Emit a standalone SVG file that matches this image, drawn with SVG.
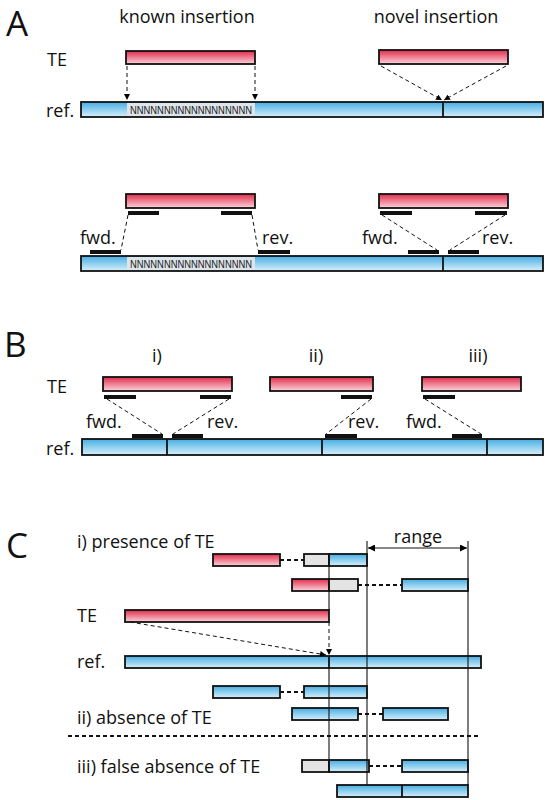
<svg xmlns="http://www.w3.org/2000/svg" width="547" height="800" viewBox="0 0 547 800">
<defs>
<linearGradient id="gr" x1="0" y1="0" x2="0" y2="1"><stop offset="0" stop-color="#e22c4a"/><stop offset="1" stop-color="#fbd3db"/></linearGradient>
<linearGradient id="gb" x1="0" y1="0" x2="0" y2="1"><stop offset="0" stop-color="#45ade3"/><stop offset="1" stop-color="#d8f0fb"/></linearGradient>
<marker id="ah" viewBox="0 0 8 8" refX="8" refY="4" markerWidth="6" markerHeight="6" markerUnits="userSpaceOnUse" orient="auto"><path d="M0,0 L8,4 L0,8 z" fill="#000"/></marker>
<marker id="ahs" viewBox="0 0 8 8" refX="0" refY="4" markerWidth="7" markerHeight="7" markerUnits="userSpaceOnUse" orient="auto"><path d="M8,0 L0,4 L8,8 z" fill="#000"/></marker>
<marker id="ahe" viewBox="0 0 8 8" refX="8" refY="4" markerWidth="7" markerHeight="7" markerUnits="userSpaceOnUse" orient="auto"><path d="M0,0 L8,4 L0,8 z" fill="#000"/></marker>
</defs>
<style>
text{font-family:"Open Sans","Liberation Sans",sans-serif;fill:#111;}
.big{font-size:35px;}
.lab{font-size:18px;}
.te{fill:url(#gr);stroke:#111;stroke-width:1.8;}
.rf{fill:url(#gb);stroke:#111;stroke-width:1.8;}
.gy{fill:#e4e4e4;stroke:#111;stroke-width:1.8;}
.nr{fill:#dde5ea;}
.nt{font-family:"Liberation Sans",sans-serif;font-size:10px;fill:#222;}
.rd{fill:#111;}
.dv{stroke:#111;stroke-width:1.8;}
.ds{stroke:#111;stroke-width:1;fill:none;stroke-dasharray:4 3;}
.dsb{stroke:#111;stroke-width:2;fill:none;stroke-dasharray:4 3;}
.vl{stroke:#111;stroke-width:1.1;}
</style>

<!-- Panel A -->
<g id="panelA-labels">
<text class="big" x="6" y="36">A</text>
<text class="lab" x="187" y="23" text-anchor="middle">known insertion</text>
<text class="lab" x="436" y="23" text-anchor="middle">novel insertion</text>
<text class="lab" x="47" y="66">TE</text>
<text class="lab" x="46" y="117">ref.</text>
<text class="lab" x="80" y="244">fwd.</text>
<text class="lab" x="262" y="244">rev.</text>
<text class="lab" x="362" y="244">fwd.</text>
<text class="lab" x="482" y="244">rev.</text>
</g>
<g id="A-te-known"><rect class="te" x="126" y="51" width="129" height="13"/></g>
<g id="A-te-novel"><rect class="te" x="379" y="50" width="129" height="14"/></g>
<g id="A-ref1">
<rect class="rf" x="81" y="102" width="462" height="15"/>
<rect class="nr" x="127" y="103" width="128" height="13"/>
<text class="nt" x="130" y="113.5" textLength="122" lengthAdjust="spacingAndGlyphs">NNNNNNNNNNNNNNNNNN</text>
<line class="dv" x1="443" y1="102" x2="443" y2="117"/>
</g>
<g id="A-te-known2"><rect class="te" x="126" y="194" width="129" height="14"/></g>
<g id="A-te-novel2"><rect class="te" x="379" y="194" width="129" height="14"/></g>
<g id="A-reads">
<rect class="rd" x="128" y="211" width="31" height="4"/>
<rect class="rd" x="221" y="211" width="31" height="4"/>
<rect class="rd" x="380" y="211" width="32" height="4"/>
<rect class="rd" x="475" y="211" width="32" height="4"/>
<rect class="rd" x="90" y="250" width="31" height="4"/>
<rect class="rd" x="258" y="250" width="32" height="4"/>
<rect class="rd" x="408" y="250" width="31" height="4"/>
<rect class="rd" x="448" y="250" width="31" height="4"/>
</g>
<g id="A-ref2">
<rect class="rf" x="81" y="256" width="462" height="15"/>
<rect class="nr" x="127" y="257" width="128" height="13"/>
<text class="nt" x="130" y="267.5" textLength="122" lengthAdjust="spacingAndGlyphs">NNNNNNNNNNNNNNNNNN</text>
<line class="dv" x1="443" y1="256" x2="443" y2="271"/>
</g>

<!-- Panel B -->
<g id="panelB-labels">
<text class="big" x="4" y="357">B</text>
<text class="lab" x="157" y="362" text-anchor="middle">i)</text>
<text class="lab" x="316" y="362" text-anchor="middle">ii)</text>
<text class="lab" x="478" y="362" text-anchor="middle">iii)</text>
<text class="lab" x="47" y="393">TE</text>
<text class="lab" x="46" y="455">ref.</text>
<text class="lab" x="86" y="428">fwd.</text>
<text class="lab" x="207" y="428">rev.</text>
<text class="lab" x="348" y="428">rev.</text>
<text class="lab" x="406" y="428">fwd.</text>
</g>
<g id="B-te-i"><rect class="te" x="103" y="377" width="129" height="14"/></g>
<g id="B-te-ii"><rect class="te" x="270" y="377" width="103" height="14"/></g>
<g id="B-te-iii"><rect class="te" x="422" y="377" width="99" height="14"/></g>
<g id="B-reads">
<rect class="rd" x="104" y="395" width="32" height="4"/>
<rect class="rd" x="200" y="395" width="31" height="4"/>
<rect class="rd" x="341" y="395" width="31" height="4"/>
<rect class="rd" x="423" y="395" width="32" height="4"/>
<rect class="rd" x="132" y="434" width="31" height="4"/>
<rect class="rd" x="172" y="434" width="31" height="4"/>
<rect class="rd" x="325" y="434" width="32" height="4"/>
<rect class="rd" x="452" y="434" width="30" height="4"/>
</g>
<g id="B-ref">
<rect class="rf" x="82" y="439" width="461" height="16"/>
<line class="dv" x1="167" y1="439" x2="167" y2="455"/>
<line class="dv" x1="322" y1="439" x2="322" y2="455"/>
<line class="dv" x1="487" y1="439" x2="487" y2="455"/>
</g>

<!-- Panel C -->
<g id="panelC-labels">
<text class="big" x="6" y="558">C</text>
<text class="lab" x="77" y="548">i) presence of TE</text>
<text class="lab" x="418" y="543" text-anchor="middle">range</text>
<text class="lab" x="77" y="622">TE</text>
<text class="lab" x="77" y="668">ref.</text>
<text class="lab" x="77" y="724">ii) absence of TE</text>
<text class="lab" x="77" y="773">iii) false absence of TE</text>
</g>
<g id="C-i-row1">
<rect class="te" x="213" y="554" width="67" height="12"/>
<rect class="gy" x="304" y="554" width="25" height="12"/>
<rect class="rf" x="329" y="554" width="38" height="12"/>
</g>
<g id="C-i-row2">
<rect class="te" x="292" y="579" width="37" height="12"/>
<rect class="gy" x="329" y="579" width="29" height="12"/>
<rect class="rf" x="402" y="579" width="66" height="12"/>
</g>
<g id="C-te"><rect class="te" x="125" y="610" width="204" height="12"/></g>
<g id="C-ref">
<rect class="rf" x="125" y="656" width="356" height="12"/>
</g>
<g id="C-ii-row1">
<rect class="rf" x="213" y="686" width="67" height="12"/>
<rect class="rf" x="304" y="686" width="63" height="12"/>
</g>
<g id="C-ii-row2">
<rect class="rf" x="292" y="708" width="66" height="12"/>
<rect class="rf" x="383" y="708" width="65" height="12"/>
</g>
<g id="C-iii-row1">
<rect class="gy" x="302" y="760" width="27" height="12"/>
<rect class="rf" x="329" y="760" width="40" height="12"/>
<rect class="rf" x="402" y="760" width="66" height="12"/>
</g>
<g id="C-iii-row2">
<rect class="rf" x="337" y="785" width="131" height="12"/>
<line class="dv" x1="402" y1="785" x2="402" y2="797"/>
</g>

<g id="connectors">
<!-- A top -->
<line class="ds" x1="127" y1="66" x2="127" y2="100" marker-end="url(#ah)"/>
<line class="ds" x1="255" y1="66" x2="255" y2="100" marker-end="url(#ah)"/>
<line class="ds" x1="381" y1="66" x2="442" y2="100" marker-end="url(#ah)"/>
<line class="ds" x1="506" y1="66" x2="444" y2="100" marker-end="url(#ah)"/>
<!-- A bottom -->
<line class="ds" x1="128" y1="215" x2="121" y2="250"/>
<line class="ds" x1="252" y1="215" x2="258" y2="250"/>
<line class="ds" x1="382" y1="215" x2="437" y2="250"/>
<line class="ds" x1="505" y1="215" x2="450" y2="250"/>
<!-- B -->
<line class="ds" x1="107" y1="399" x2="162" y2="434"/>
<line class="ds" x1="229" y1="399" x2="173" y2="434"/>
<line class="ds" x1="371" y1="399" x2="326" y2="434"/>
<line class="ds" x1="425" y1="399" x2="481" y2="434"/>
<!-- C -->
<line class="vl" x1="368" y1="548" x2="467" y2="548" marker-start="url(#ahs)" marker-end="url(#ahe)"/>
<line class="vl" x1="367" y1="541" x2="367" y2="785"/>
<line class="vl" x1="468" y1="541" x2="468" y2="785"/>
<line class="vl" x1="329" y1="554" x2="329" y2="610"/>
<line class="vl" x1="329" y1="668" x2="329" y2="772"/>
<line class="dv" x1="329" y1="656" x2="329" y2="668"/>
<line class="ds" x1="130" y1="622" x2="326" y2="655" marker-end="url(#ah)"/>
<line class="ds" x1="329" y1="622" x2="329" y2="655" marker-end="url(#ah)"/>
<line class="dsb" x1="280" y1="560" x2="304" y2="560"/>
<line class="dsb" x1="358" y1="585" x2="402" y2="585"/>
<line class="dsb" x1="280" y1="692" x2="304" y2="692"/>
<line class="dsb" x1="358" y1="714" x2="383" y2="714"/>
<line class="dsb" x1="369" y1="766" x2="402" y2="766"/>
<line class="dsb" x1="68" y1="736" x2="481" y2="736"/>
</g>
</svg>
